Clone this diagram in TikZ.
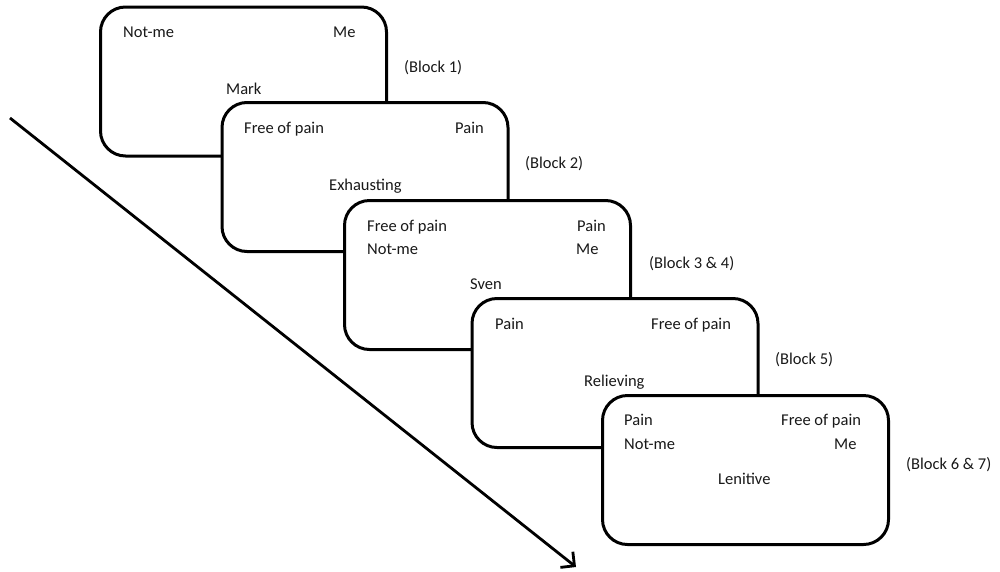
\documentclass[tikz,border=0pt]{standalone}
\usepackage{fontspec}
\setmainfont{Carlito}
\usetikzlibrary{arrows.meta}
\begin{document}
\begin{tikzpicture}[x=1pt,y=-1pt,
  blk/.style={draw=black, line width=3pt, fill=white, rounded corners=25pt,
    minimum width=286pt, minimum height=149pt, inner sep=0pt},
  lbl/.style={anchor=base west, inner sep=0pt, font=\fontsize{16.5}{19}\selectfont, text=black!90},
  timeline/.style={line width=2.8pt, -{Straight Barb[length=10pt,width=20pt,line width=2.8pt]}}]
\useasboundingbox (0,0) rectangle (1000,571);
\coordinate (s) at (10,118);
\coordinate (e) at (576,567);
\draw[timeline] (s) -- (e);
% Block 1
\node[blk] (b1) at (243.5,81.5) {};
\node[lbl] (b1a) at (123,37) {Not-me};
\node[lbl] (b1b) at (333,37) {Me};
\node[lbl] (b1c) at (226,94) {Mark};
\node[lbl] (b1l) at (404,72) {(Block 1)};
% Block 2
\node[blk] (b2) at (365,177) {};
\node[lbl] (b2a) at (244,133) {Free of pain};
\node[lbl] (b2b) at (455,133) {Pain};
\node[lbl] (b2c) at (329,190) {Exhausting};
\node[lbl] (b2l) at (525,168) {(Block 2)};
% Block 3
\node[blk] (b3) at (487.5,275) {};
\node[lbl] (b3a) at (367,231) {Free of pain};
\node[lbl] (b3b) at (577,231) {Pain};
\node[lbl] (b3c) at (367,254) {Not-me};
\node[lbl] (b3d) at (576,254) {Me};
\node[lbl] (b3e) at (470,289) {Sven};
\node[lbl] (b3l) at (649,268) {(Block 3 \& 4)};
% Block 4
\node[blk] (b4) at (615,373) {};
\node[lbl] (b4a) at (495,329) {Pain};
\node[lbl] (b4b) at (651,329) {Free of pain};
\node[lbl] (b4c) at (584,386) {Relieving};
\node[lbl] (b4l) at (775,364) {(Block 5)};
% Block 5
\node[blk] (b5) at (745.5,470) {};
\node[lbl] (b5a) at (624,425) {Pain};
\node[lbl] (b5b) at (781,425) {Free of pain};
\node[lbl] (b5c) at (624,449) {Not-me};
\node[lbl] (b5d) at (834,449) {Me};
\node[lbl] (b5e) at (718,484) {Lenitive};
\node[lbl] (b5l) at (906,469) {(Block 6 \& 7)};
\end{tikzpicture}
\end{document}
